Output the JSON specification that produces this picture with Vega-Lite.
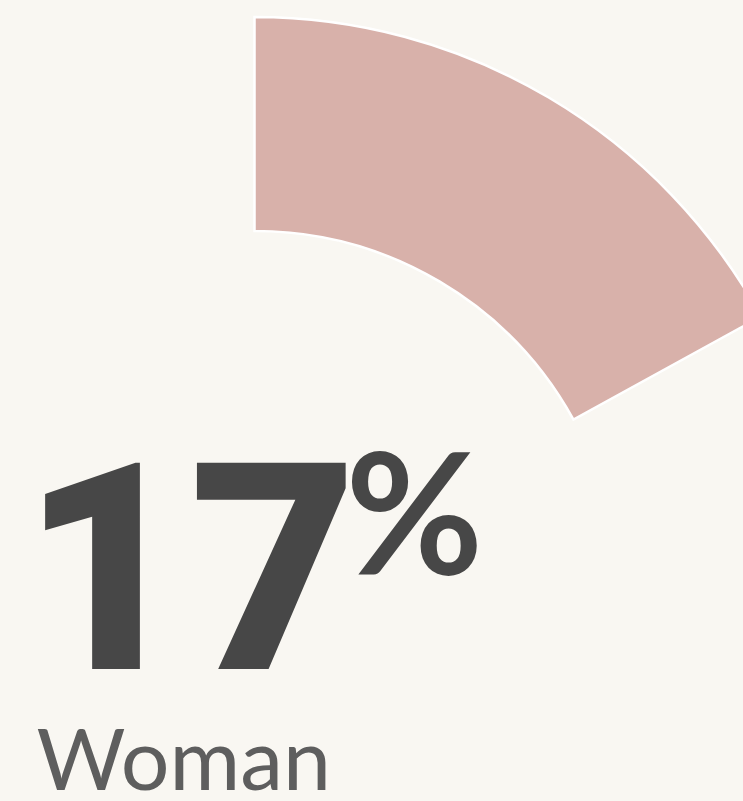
{
  "$schema": "https://vega.github.io/schema/vega-lite/v6.json",
  "width": 509,
  "height": 1190,
  "autosize": {"type": "none"},
  "padding": {"left": 0, "top": 0, "right": 234, "bottom": 0},
  "background": "#F9F7F2",
  "config": {"view": {"stroke": null}},
  "data": {
    "values": [
      {"group": "Woman", "pct": 17},
      {"group": "Other", "pct": 83}
    ]
  },
  "transform": [{"filter": "datum.group === 'Woman'"}],
  "layer": [
    {
      "mark": {
        "type": "arc",
        "innerRadius": 364,
        "outerRadius": 578,
        "color": "#D8B1AA",
        "stroke": "#FFFFFF",
        "strokeWidth": 2.5
      },
      "encoding": {
        "theta": {
          "field": "pct",
          "type": "quantitative",
          "scale": {"domain": [0, 100]}
        }
      }
    },
    {
      "mark": {
        "type": "text",
        "font": "Roboto",
        "fontWeight": 900,
        "fontSize": 290,
        "color": "#474747",
        "align": "left",
        "baseline": "alphabetic",
        "dx": -233,
        "dy": 74
      },
      "encoding": {"text": {"field": "pct", "type": "quantitative"}}
    },
    {
      "mark": {
        "type": "text",
        "text": "%",
        "font": "Lato",
        "fontWeight": 700,
        "fontSize": 168,
        "color": "#474747",
        "align": "left",
        "baseline": "alphabetic",
        "dx": 91,
        "dy": -21
      },
      "encoding": {}
    },
    {
      "mark": {
        "type": "text",
        "font": "Lato",
        "fontWeight": 400,
        "fontSize": 86,
        "color": "#5E5E5E",
        "align": "left",
        "baseline": "alphabetic",
        "dx": -218,
        "dy": 195
      },
      "encoding": {"text": {"field": "group", "type": "nominal"}}
    }
  ]
}
